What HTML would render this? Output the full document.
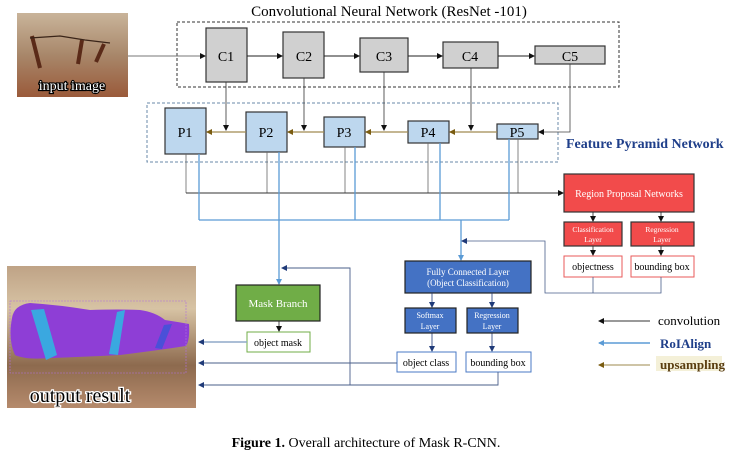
<!DOCTYPE html>
<html><head><meta charset="utf-8"><style>
html,body{margin:0;padding:0;background:#fff;}
svg{display:block;}
text{font-family:"Liberation Serif",serif;}
</style></head><body>
<svg width="729" height="459" viewBox="0 0 729 459" xmlns="http://www.w3.org/2000/svg">
<defs>
<marker id="ak" markerWidth="6" markerHeight="6" refX="5" refY="3" orient="auto" markerUnits="userSpaceOnUse"><path d="M0,0 L6,3 L0,6z" fill="#111"/></marker>
<marker id="ab" markerWidth="6" markerHeight="6" refX="5" refY="3" orient="auto" markerUnits="userSpaceOnUse"><path d="M0,0 L6,3 L0,6z" fill="#1f3a78"/></marker>
<marker id="al" markerWidth="6" markerHeight="6" refX="5" refY="3" orient="auto" markerUnits="userSpaceOnUse"><path d="M0,0 L6,3 L0,6z" fill="#5b9bd5"/></marker>
<marker id="ao" markerWidth="6" markerHeight="6" refX="5" refY="3" orient="auto" markerUnits="userSpaceOnUse"><path d="M0,0 L6,3 L0,6z" fill="#7a5c10"/></marker>
<linearGradient id="img1" x1="0" y1="0" x2="0" y2="1"><stop offset="0" stop-color="#c9b49a"/><stop offset="0.5" stop-color="#a8876a"/><stop offset="1" stop-color="#9a5a3a"/></linearGradient>
<linearGradient id="img2" x1="0" y1="0" x2="0" y2="1"><stop offset="0" stop-color="#bfa386"/><stop offset="0.3" stop-color="#d7c3a4"/><stop offset="0.7" stop-color="#8d6a4e"/><stop offset="1" stop-color="#b58a6c"/></linearGradient>
</defs>

<text x="389" y="16" font-size="15" text-anchor="middle">Convolutional Neural Network (ResNet -101)</text>

<!-- input image -->
<rect x="17" y="13" width="111" height="84" fill="url(#img1)"/>
<path d="M32,36 L40,68 M82,40 L78,64 M104,44 L96,62" stroke="#5a2a18" stroke-width="4"/>
<path d="M30,38 L60,36 L85,40 L110,43" stroke="#3a2418" stroke-width="1.2" fill="none"/>
<text x="72" y="90" font-size="14" text-anchor="middle" fill="#fff" stroke="#000" stroke-width="2.2" paint-order="stroke">input image</text>

<!-- CNN box -->
<rect x="177" y="22" width="442" height="65" fill="none" stroke="#333" stroke-dasharray="3,2"/>
<line x1="128" y1="56" x2="205" y2="56" stroke="#777" marker-end="url(#ak)"/>
<g fill="#d0d0d0" stroke="#333" stroke-width="1.2">
<rect x="206" y="28" width="41" height="54"/>
<rect x="283" y="32" width="41" height="46"/>
<rect x="360" y="38" width="48" height="34"/>
<rect x="443" y="42" width="55" height="26"/>
<rect x="535" y="46" width="70" height="18"/>
</g>
<g stroke="#222" marker-end="url(#ak)">
<line x1="247" y1="56" x2="282" y2="56"/>
<line x1="324" y1="56" x2="359" y2="56"/>
<line x1="408" y1="56" x2="442" y2="56"/>
<line x1="498" y1="56" x2="534" y2="56"/>
</g>
<g font-size="14" text-anchor="middle">
<text x="226" y="61">C1</text><text x="304" y="61">C2</text><text x="384" y="61">C3</text><text x="470" y="61">C4</text><text x="570" y="61">C5</text>
</g>

<!-- FPN -->
<rect x="147" y="103" width="411" height="59" fill="none" stroke="#6a8aa8" stroke-dasharray="3,2"/>
<g fill="#bdd7ee" stroke="#333" stroke-width="1.2">
<rect x="165" y="108" width="41" height="46"/>
<rect x="246" y="112" width="41" height="40"/>
<rect x="324" y="117" width="41" height="30"/>
<rect x="408" y="121" width="41" height="22"/>
<rect x="497" y="124" width="41" height="15"/>
</g>
<g font-size="14" text-anchor="middle">
<text x="185" y="137">P1</text><text x="266" y="137">P2</text><text x="344" y="137">P3</text><text x="428" y="137">P4</text><text x="517" y="137">P5</text>
</g>
<g stroke="#a08a50" stroke-width="1.2" marker-end="url(#ao)">
<line x1="246" y1="132" x2="207" y2="132"/>
<line x1="324" y1="132" x2="288" y2="132"/>
<line x1="408" y1="132" x2="366" y2="132"/>
<line x1="497" y1="132" x2="450" y2="132"/>
</g>
<g stroke="#333" stroke-width="0.8" marker-end="url(#ak)">
<line x1="226" y1="82" x2="226" y2="130"/>
<line x1="304" y1="78" x2="304" y2="130"/>
<line x1="384" y1="72" x2="384" y2="130"/>
<line x1="471" y1="68" x2="471" y2="130"/>
</g>
<polyline points="570,64 570,132 539,132" fill="none" stroke="#444" stroke-width="0.8" marker-end="url(#ak)"/>
<text x="566" y="148" font-size="14" fill="#1f3f8a" font-weight="bold">Feature Pyramid Network</text>

<!-- grey lines to RPN -->
<g stroke="#666" stroke-width="0.8" fill="none">
<line x1="186" y1="154" x2="186" y2="193"/>
<line x1="267" y1="152" x2="267" y2="193"/>
<line x1="345" y1="147" x2="345" y2="193"/>
<line x1="428" y1="143" x2="428" y2="193"/>
<line x1="518" y1="139" x2="518" y2="193"/>
</g>
<line x1="186" y1="193" x2="563" y2="193" stroke="#333" stroke-width="0.9" marker-end="url(#ak)"/>

<!-- blue RoIAlign lines -->
<g stroke="#5b9bd5" stroke-width="1.3" fill="none">
<line x1="199" y1="154" x2="199" y2="220"/>
<line x1="279" y1="152" x2="279" y2="220"/>
<line x1="355" y1="147" x2="355" y2="220"/>
<line x1="440" y1="143" x2="440" y2="220"/>
<line x1="509" y1="139" x2="509" y2="220"/>
<line x1="199" y1="220" x2="509" y2="220"/>
<line x1="279" y1="220" x2="279" y2="284" marker-end="url(#al)"/>
<line x1="461" y1="220" x2="461" y2="260" marker-end="url(#al)"/>
</g>

<!-- RPN -->
<rect x="564" y="174" width="130" height="38" fill="#f24b4b" stroke="#333" stroke-width="1.2"/>
<text x="629" y="197" font-size="10" text-anchor="middle" fill="#fff">Region Proposal Networks</text>
<g stroke="#222" stroke-width="0.8" marker-end="url(#ak)">
<line x1="593" y1="212" x2="593" y2="221"/>
<line x1="661" y1="212" x2="661" y2="221"/>
<line x1="593" y1="246" x2="593" y2="255"/>
<line x1="661" y1="246" x2="661" y2="255"/>
</g>
<rect x="564" y="222" width="58" height="24" fill="#f24b4b" stroke="#333" stroke-width="1.2"/>
<rect x="631" y="222" width="63" height="24" fill="#f24b4b" stroke="#333" stroke-width="1.2"/>
<g font-size="7.5" text-anchor="middle" fill="#fff">
<text x="593" y="232">Classification</text><text x="593" y="242">Layer</text>
<text x="662" y="232">Regression</text><text x="662" y="242">Layer</text>
</g>
<rect x="564" y="256" width="58" height="21" fill="#fff" stroke="#e85a5a"/>
<rect x="631" y="256" width="63" height="21" fill="#fff" stroke="#e85a5a"/>
<text x="593" y="270" font-size="10" text-anchor="middle">objectness</text>
<text x="662" y="270" font-size="10" text-anchor="middle">bounding box</text>
<polyline points="593,277 593,293" fill="none" stroke="#4a5f8a" stroke-width="0.8"/>
<polyline points="661,277 661,293 545,293 545,241 462,241" fill="none" stroke="#4a5f8a" stroke-width="0.8" marker-end="url(#ab)"/>

<!-- Fully connected -->
<rect x="405" y="261" width="126" height="32" fill="#4472c4" stroke="#222" stroke-width="1.2"/>
<text x="468" y="275" font-size="9" text-anchor="middle" fill="#fff">Fully Connected Layer</text>
<text x="468" y="286" font-size="9" text-anchor="middle" fill="#fff">(Object Classification)</text>
<g stroke="#1f3a78" stroke-width="0.8" marker-end="url(#ab)">
<line x1="432" y1="293" x2="432" y2="307"/>
<line x1="492" y1="293" x2="492" y2="307"/>
<line x1="432" y1="333" x2="432" y2="351"/>
<line x1="492" y1="333" x2="492" y2="351"/>
</g>
<rect x="405" y="308" width="51" height="25" fill="#4472c4" stroke="#222" stroke-width="1.2"/>
<rect x="467" y="308" width="51" height="25" fill="#4472c4" stroke="#222" stroke-width="1.2"/>
<g font-size="8" text-anchor="middle" fill="#fff">
<text x="430" y="318">Softmax</text><text x="430" y="329">Layer</text>
<text x="492" y="318">Regression</text><text x="492" y="329">Layer</text>
</g>
<rect x="397" y="352" width="59" height="20" fill="#fff" stroke="#4a7ac4"/>
<rect x="466" y="352" width="65" height="20" fill="#fff" stroke="#4a7ac4"/>
<text x="426" y="366" font-size="10" text-anchor="middle">object class</text>
<text x="498" y="366" font-size="10" text-anchor="middle">bounding box</text>

<!-- Mask branch -->
<rect x="236" y="285" width="84" height="36" fill="#70ad47" stroke="#222" stroke-width="1.2"/>
<text x="278" y="307" font-size="11" text-anchor="middle" fill="#fff">Mask Branch</text>
<line x1="279" y1="321" x2="279" y2="331" stroke="#222" stroke-width="0.8" marker-end="url(#ak)"/>
<rect x="247" y="332" width="63" height="20" fill="#fff" stroke="#70ad47"/>
<text x="278" y="346" font-size="10" text-anchor="middle">object mask</text>

<!-- outputs -->
<g stroke="#4a5f8a" stroke-width="0.9" fill="none">
<line x1="247" y1="342" x2="199" y2="342" stroke="#8fa8c8" stroke-width="1.5" marker-end="url(#ab)"/>
<line x1="397" y1="363" x2="199" y2="363" marker-end="url(#ab)"/>
<polyline points="498,372 498,385 199,385" marker-end="url(#ab)"/>
<polyline points="350,385 350,268 282,268" marker-end="url(#ab)"/>
</g>

<!-- output image -->
<rect x="7" y="266" width="189" height="142" fill="url(#img2)"/>
<path d="M12,318 Q14,305 30,303 Q60,305 90,310 Q120,309 140,310 Q155,312 165,320 Q178,322 189,324 Q190,340 186,346 Q160,350 120,355 Q80,357 50,358 Q25,360 15,355 Q8,340 12,318z" fill="#8e3ed6"/>
<path d="M31,310 L44,309 L57,355 L46,360z" fill="#3aa8e0"/>
<path d="M117,312 L125,310 L118,355 L109,354z" fill="#3aa8e0"/>
<path d="M164,325 L172,324 L162,349 L155,348z" fill="#4a50d8"/>
<rect x="10" y="301" width="176" height="72" fill="none" stroke="#b070e0" stroke-width="0.6" stroke-dasharray="2,1"/>
<text x="80" y="402" font-size="20" text-anchor="middle" fill="#000" stroke="#fff" stroke-width="2.6" paint-order="stroke">output result</text>

<!-- legend -->
<line x1="650" y1="321" x2="599" y2="321" stroke="#333" stroke-width="0.9" marker-end="url(#ak)"/>
<text x="658" y="325" font-size="13">convolution</text>
<line x1="650" y1="343" x2="599" y2="343" stroke="#5b9bd5" stroke-width="1.5" marker-end="url(#al)"/>
<text x="660" y="348" font-size="13" fill="#1f3f8a" font-weight="bold">RoIAlign</text>
<line x1="650" y1="365" x2="599" y2="365" stroke="#b0a070" stroke-width="1.2" marker-end="url(#ao)"/>
<rect x="656" y="356" width="66" height="15" fill="#f4f0d8"/>
<text x="660" y="369" font-size="13" fill="#5a3e10" font-weight="bold">upsampling</text>

<!-- caption -->
<text x="366" y="447" font-size="14" text-anchor="middle"><tspan font-weight="bold">Figure 1.</tspan> Overall architecture of Mask R-CNN.</text>
</svg>
</body></html>
